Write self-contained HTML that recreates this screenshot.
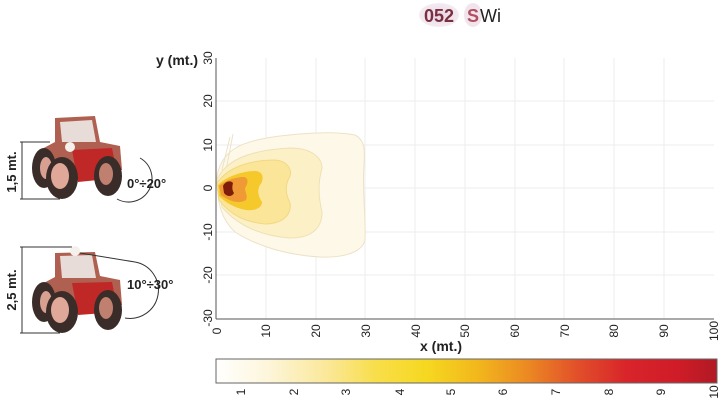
<!DOCTYPE html>
<html><head><meta charset="utf-8"><style>
html,body{margin:0;padding:0;background:#fff;}
svg{display:block;font-family:"Liberation Sans",Arial,sans-serif;}
</style></head><body>
<svg width="722" height="401" viewBox="0 0 722 401" xmlns="http://www.w3.org/2000/svg">
<defs>
<linearGradient id="cb" x1="0" x2="1" y1="0" y2="0">
<stop offset="0" stop-color="#ffffff"/>
<stop offset="0.1" stop-color="#fdf6dc"/>
<stop offset="0.22" stop-color="#fbe89a"/>
<stop offset="0.32" stop-color="#f8de4a"/>
<stop offset="0.42" stop-color="#f6d820"/>
<stop offset="0.52" stop-color="#f2b81c"/>
<stop offset="0.62" stop-color="#ec8a22"/>
<stop offset="0.72" stop-color="#e2502a"/>
<stop offset="0.82" stop-color="#d8242a"/>
<stop offset="0.92" stop-color="#d01c28"/>
<stop offset="1" stop-color="#b01a24"/>
</linearGradient>
<radialGradient id="ov" cx="0.5" cy="0.5" r="0.5">
<stop offset="0" stop-color="#e8d6e4"/><stop offset="1" stop-color="#f4ecf2"/>
</radialGradient>
</defs>
<!-- title -->
<ellipse cx="439" cy="15" rx="20" ry="12" fill="url(#ov)"/>
<ellipse cx="473" cy="15" rx="9" ry="12" fill="#f2e4ec"/>
<text x="424" y="22" font-size="18" font-weight="bold" fill="#7a3040">052</text>
<text x="467" y="22" font-size="18" font-weight="bold" fill="#b05060">S</text>
<text x="480" y="22" font-size="18" fill="#222">Wi</text>
<!-- plot area -->
<rect x="216" y="58" width="498" height="261" fill="#fff"/>
<g stroke="#ececec" stroke-width="1">
<line x1="266" y1="58" x2="266" y2="319"/><line x1="316" y1="58" x2="316" y2="319"/>
<line x1="365" y1="58" x2="365" y2="319"/><line x1="415" y1="58" x2="415" y2="319"/>
<line x1="465" y1="58" x2="465" y2="319"/><line x1="515" y1="58" x2="515" y2="319"/>
<line x1="564" y1="58" x2="564" y2="319"/><line x1="614" y1="58" x2="614" y2="319"/>
<line x1="664" y1="58" x2="664" y2="319"/>
<line x1="216" y1="101" x2="714" y2="101"/><line x1="216" y1="145" x2="714" y2="145"/>
<line x1="216" y1="188" x2="714" y2="188"/><line x1="216" y1="232" x2="714" y2="232"/>
<line x1="216" y1="275" x2="714" y2="275"/>
</g>
<!-- contours -->
<path d="M217,176 C222,150 240,141 280,136 C305,133 335,131 355,135 C365,140 365,150 364,165 C362,190 366,215 365,240 C362,252 345,258 320,257 C285,255 255,245 235,232 C222,220 217,205 217,176 Z" fill="#fdf8e8" stroke="#ece2c6" stroke-width="1"/>
<path d="M222,170 L230,137 M226,170 L233,134" stroke="#ece2c6" fill="none"/>
<path d="M217,180 C225,160 250,150 290,148 C312,148 322,158 322,168 C318,182 318,196 322,212 C322,228 312,238 290,238 C262,236 238,226 222,207 Z" fill="#fcf1c6" stroke="#efe0b6" stroke-width="1"/>
<path d="M217,183 C228,167 250,160 275,160 C288,161 292,170 290,176 C285,185 285,193 290,203 C292,215 282,224 265,224 C245,222 230,215 219,200 Z" fill="#fae599" stroke="#f2d886" stroke-width="1"/>
<path d="M218,185 C228,175 245,171 256,171 C264,172 264,180 260,185 C257,190 258,196 262,202 C262,208 255,211 246,210 C235,208 226,203 219,196 Z" fill="#f5c82c"/>
<path d="M219,186 C226,180 236,177 244,177 C249,178 248,184 245,188 C245,192 248,196 246,200 C240,204 230,202 221,195 Z" fill="#ef9a34"/>
<path d="M223,186 C225,181 231,180 233,183 C232,187 232,190 234,193 C232,197 227,197 224,193 Z" fill="#7e1e0a"/>
<!-- axes box -->
<line x1="216" y1="58" x2="216" y2="319" stroke="#555" stroke-width="1"/>
<line x1="216" y1="319" x2="714" y2="319" stroke="#555" stroke-width="1"/>
<!-- y tick labels -->
<g font-size="12" fill="#222" text-anchor="middle">
<text transform="translate(212,58) rotate(-90)">30</text>
<text transform="translate(212,101) rotate(-90)">20</text>
<text transform="translate(212,145) rotate(-90)">10</text>
<text transform="translate(212,188) rotate(-90)">0</text>
<text transform="translate(212,232) rotate(-90)">-10</text>
<text transform="translate(212,275) rotate(-90)">-20</text>
<text transform="translate(212,318) rotate(-90)">-30</text>
</g>
<!-- x tick labels -->
<g font-size="12" fill="#222" text-anchor="middle">
<text transform="translate(221,331) rotate(-90)">0</text>
<text transform="translate(270,331) rotate(-90)">10</text>
<text transform="translate(320,331) rotate(-90)">20</text>
<text transform="translate(370,331) rotate(-90)">30</text>
<text transform="translate(420,331) rotate(-90)">40</text>
<text transform="translate(469,331) rotate(-90)">50</text>
<text transform="translate(519,331) rotate(-90)">60</text>
<text transform="translate(569,331) rotate(-90)">70</text>
<text transform="translate(618,331) rotate(-90)">80</text>
<text transform="translate(668,331) rotate(-90)">90</text>
<text transform="translate(718,331) rotate(-90)">100</text>
</g>
<text x="420" y="351" font-size="14" font-weight="bold" fill="#222">x (mt.)</text>
<text x="156" y="65" font-size="14" font-weight="bold" fill="#222">y (mt.)</text>
<!-- colorbar -->
<rect x="216" y="359" width="501" height="24" fill="url(#cb)" stroke="#666" stroke-width="1"/>
<g font-size="12" fill="#222" text-anchor="middle">
<text transform="translate(245,392) rotate(-90)">1</text>
<text transform="translate(298,392) rotate(-90)">2</text>
<text transform="translate(350,392) rotate(-90)">3</text>
<text transform="translate(404,392) rotate(-90)">4</text>
<text transform="translate(455,392) rotate(-90)">5</text>
<text transform="translate(507,392) rotate(-90)">6</text>
<text transform="translate(560,392) rotate(-90)">7</text>
<text transform="translate(613,392) rotate(-90)">8</text>
<text transform="translate(665,392) rotate(-90)">9</text>
<text transform="translate(718,392) rotate(-90)">10</text>
</g>
<!-- tractor 1 -->
<g>
<line x1="20" y1="142" x2="50" y2="142" stroke="#333"/><line x1="20" y1="199" x2="60" y2="199" stroke="#333"/>
<line x1="22" y1="142" x2="22" y2="199" stroke="#333"/>
<text transform="translate(16,172) rotate(-90)" font-size="13" font-weight="bold" text-anchor="middle" fill="#222">1,5 mt.</text>
<path d="M55,118 L95,116 L100,142 L120,146 L122,170 L60,172 L40,150 L55,142 Z" fill="#b06050"/>
<path d="M60,122 L92,120 L96,142 L62,142 Z" fill="#e8dcd8"/>
<path d="M72,150 L112,148 L118,178 L78,182 Z" fill="#c02828"/>
<ellipse cx="44" cy="168" rx="12" ry="20" fill="#3a2c28"/><ellipse cx="46" cy="168" rx="6" ry="11" fill="#d8a090"/>
<ellipse cx="62" cy="178" rx="16" ry="21" fill="#3a2c28"/><ellipse cx="60" cy="176" rx="9" ry="13" fill="#e0a898"/>
<ellipse cx="108" cy="176" rx="14" ry="20" fill="#3a2c28"/><ellipse cx="106" cy="174" rx="7" ry="11" fill="#c08070"/>
<circle cx="70" cy="147" r="5" fill="#f4f0ec"/>
<path d="M140,158 A22,22 0 0 1 117,199" fill="none" stroke="#333"/>
<text x="127" y="188" font-size="13" font-weight="bold" fill="#222">0°÷20°</text>
</g>
<!-- tractor 2 -->
<g>
<line x1="20" y1="247" x2="72" y2="247" stroke="#333"/><line x1="20" y1="333" x2="60" y2="333" stroke="#333"/>
<line x1="22" y1="247" x2="22" y2="333" stroke="#333"/>
<text transform="translate(16,290) rotate(-90)" font-size="13" font-weight="bold" text-anchor="middle" fill="#222">2,5 mt.</text>
<path d="M55,253 L95,252 L100,276 L120,280 L122,305 L60,306 L40,285 L55,277 Z" fill="#b06050"/>
<path d="M60,256 L92,255 L96,278 L62,278 Z" fill="#e8dcd8"/>
<path d="M72,283 L112,282 L118,312 L78,315 Z" fill="#c02828"/>
<ellipse cx="44" cy="302" rx="12" ry="20" fill="#3a2c28"/><ellipse cx="46" cy="302" rx="6" ry="11" fill="#d8a090"/>
<ellipse cx="62" cy="312" rx="16" ry="21" fill="#3a2c28"/><ellipse cx="60" cy="310" rx="9" ry="13" fill="#e0a898"/>
<ellipse cx="108" cy="310" rx="14" ry="20" fill="#3a2c28"/><ellipse cx="106" cy="308" rx="7" ry="11" fill="#c08070"/>
<circle cx="75" cy="251" r="5" fill="#f4f0ec"/>
<line x1="80" y1="253" x2="135" y2="262" stroke="#333"/>
<path d="M135,262 A25,25 0 0 1 125,318" fill="none" stroke="#333"/>
<text x="127" y="289" font-size="13" font-weight="bold" fill="#222">10°÷30°</text>
</g>
</svg>
</body></html>
